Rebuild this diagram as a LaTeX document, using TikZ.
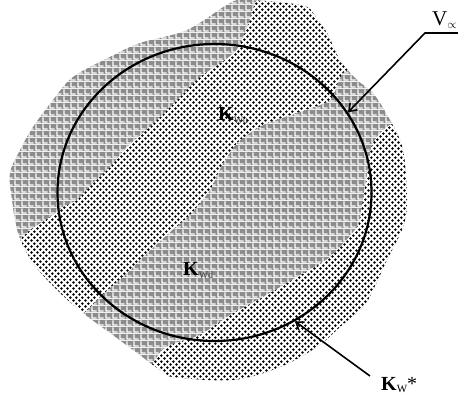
\documentclass[tikz,border=0pt]{standalone}
\usepackage{fontspec}
\setmainfont{Liberation Serif}
\usetikzlibrary{arrows.meta,patterns,shapes.geometric}

\pgfdeclarepatterninherentlycolored{herring}{\pgfqpoint{0pt}{0pt}}{\pgfqpoint{7pt}{7pt}}{\pgfqpoint{7pt}{7pt}}{%
  \pgfsetfillcolor{black!45}%
  \pgfpathrectangle{\pgfqpoint{0pt}{0pt}}{\pgfqpoint{7pt}{7pt}}\pgfusepath{fill}%
  \pgfsetstrokecolor{white}\pgfsetlinewidth{1.4pt}%
  \pgfpathmoveto{\pgfqpoint{1.2pt}{6.3pt}}\pgfpathlineto{\pgfqpoint{1.2pt}{1.2pt}}\pgfpathlineto{\pgfqpoint{6.3pt}{1.2pt}}%
  \pgfusepath{stroke}%
}
\pgfdeclarepatternformonly{crossdots}{\pgfqpoint{0pt}{0pt}}{\pgfqpoint{6.4pt}{6.4pt}}{\pgfqpoint{6.4pt}{6.4pt}}{%
  \pgfpathcircle{\pgfqpoint{1.6pt}{1.6pt}}{1.5pt}%
  \pgfpathcircle{\pgfqpoint{4.8pt}{4.8pt}}{1.5pt}%
  \pgfusepath{fill}%
}

\tikzset{
  pointer/.style={line width=1.6pt,-{Straight Barb[length=7pt,width=10pt,line width=1.6pt]}},
  dotzone/.style={fill=white,postaction={pattern=crossdots}},
  lbl/.style={anchor=base west,inner sep=0pt}
}

\begin{document}
\begin{tikzpicture}[x=1pt,y=-1pt]
\useasboundingbox (0,0) rectangle (458,396);

\begin{scope}
  \clip plot[smooth cycle,tension=0.55] coordinates {
    (230,3) (247,0) (287,3) (307,7) (313,13) (327,33) (340,60) (357,80)
    (373,93) (390,120) (403,150) (407,200) (403,227) (387,260) (373,290)
    (363,307) (340,327) (317,347) (280,367) (233,380) (173,377) (160,370)
    (133,350) (110,333) (83,313) (57,290) (33,263) (18,233) (12,200)
    (10,173) (20,150) (33,127) (53,100) (73,77) (110,57) (140,43) (187,30)};
  \fill[pattern=herring] (0,0) rectangle (458,396);
  % main diagonal band of dots
  \path[dotzone] plot[smooth cycle,tension=0.4] coordinates {
    (-20,240) (17,240) (30,230) (50,217) (63,207) (77,200) (93,183)
    (110,167) (127,147) (143,133) (160,117) (180,97) (200,77) (235,52)
    (248,25) (262,-5) (330,-20) (370,60) (343,73) (330,100) (297,113)
    (263,125) (238,142) (222,165) (210,190) (190,215) (170,232) (145,255)
    (127,273) (100,297) (85,312) (60,330) (-20,320)};
  % lower right band of dots
  \path[dotzone] plot[smooth cycle,tension=0.4] coordinates {
    (430,120) (390,125) (372,145) (367,175) (362,205) (357,227) (330,257)
    (297,277) (263,297) (230,315) (200,335) (170,345) (157,357) (150,400)
    (430,400)};
\end{scope}

\node[draw,ellipse,line width=2.2pt,minimum width=314pt,minimum height=297pt,inner sep=0pt] (circ) at (214.5,192.5) {};

\node[lbl] (ktop) at (218,120) {\fontsize{20}{20}\selectfont\textbf{K}\raisebox{-3pt}{\fontsize{10}{10}\selectfont\color{black!75}Wu}};
\node[lbl] (kbot) at (183,275) {\fontsize{20}{20}\selectfont\textbf{K}\raisebox{-3pt}{\fontsize{10}{10}\selectfont\color{black!75}Wd}};

\node[lbl] (vlab) at (432,26) {\fontsize{21}{21}\selectfont V\raisebox{-3pt}{\fontsize{12}{12}\selectfont$\propto$}};
\node[lbl] (kw) at (381,390) {\fontsize{20}{20}\selectfont\textbf{K}\raisebox{-2pt}{\fontsize{11}{11}\selectfont W}*};

\coordinate (vend) at (458,33);
\coordinate (vknee) at (425,33);
\coordinate (ktail) at (370,376);
\draw[pointer] (vend) -- (vknee) -- (circ.31.7);
\draw[pointer] (ktail) -- (circ.-58.8);
\end{tikzpicture}
\end{document}
